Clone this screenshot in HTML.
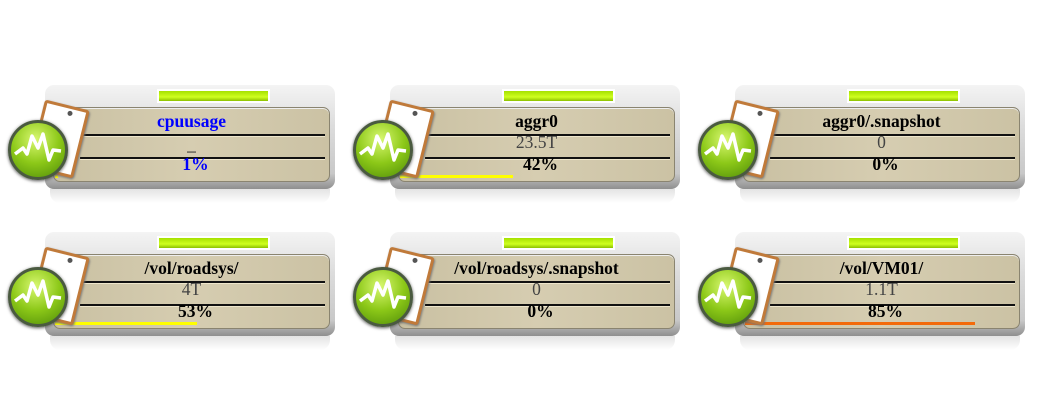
<!DOCTYPE html>
<html><head><meta charset="utf-8"><style>
body{margin:0;width:1049px;height:420px;background:#fff;position:relative;overflow:hidden;font-family:"Liberation Serif",serif;}
.w{position:absolute;width:345px;height:140px;}
.outer{position:absolute;left:45px;top:2px;width:290px;height:104px;border-radius:9px;background:linear-gradient(#f4f4f4,#dcdcdc 40%,#c8c8c8 85%,#8f8f8f);}
.refl{position:absolute;left:50px;top:106px;width:280px;height:14px;background:linear-gradient(#d8d8d8,#fff);border-radius:0 0 10px 10px;opacity:.7}
.green{position:absolute;left:157px;top:6px;width:109px;height:10px;border:2px solid #fff;background:linear-gradient(#a6e000,#cfff20 60%,#8cc000);}
.inner{position:absolute;left:53px;top:24px;width:275px;height:73px;background:linear-gradient(90deg,#c9c0a2,#d6cdb1 50%,#cbc2a4);border:1px solid #8a8470;border-radius:7px;box-shadow:inset 0 1px 0 #eee;}
.ln{position:absolute;left:80px;width:245px;height:2px;background:#111;border-bottom:1px solid #eee6cc;}
.t{position:absolute;left:53px;width:277px;text-align:center;font-size:17.5px;line-height:19px;}
.b{font-weight:bold;}
.bar{position:absolute;top:92px;height:3px;}
.clip{position:absolute;left:36px;top:21px;width:40px;height:64px;background:#fff;border:3px solid #c07a3a;border-radius:3px;transform:rotate(14deg);box-shadow:1px 1px 2px #777;}
.clip:after{content:"";position:absolute;left:22px;top:2px;width:5px;height:5px;border-radius:50%;background:#555;}
.circ{position:absolute;left:8px;top:37px;width:54px;height:54px;border-radius:50%;border:3px solid #4a5a40;background:radial-gradient(circle at 45% 30%,#d8f870,#8cc818 50%,#4d8a08);box-shadow:0 1px 3px #555;}
</style></head><body>

<div class="w" style="left:0;top:83px">
<div class="outer"></div><div class="refl"></div><div class="green"></div><div class="inner"></div>
<div class="ln" style="top:51px"></div><div class="ln" style="top:74px"></div>
<div class="t b" style="top:29px;color:#00f">cpuusage</div>
<div class="t" style="top:52px;color:#222">_</div>
<div class="t b" style="top:72px;color:#00f;left:57px">1%</div>
<div class="bar" style="left:55px;width:3px;background:#ff0"></div>
<div class="clip"></div><div class="circ"><svg width="54" height="54"><polyline points="4,31 12,25 16,31 21,13 27,25 32,11 38,37 42,27 50,28" fill="none" stroke="#fff" stroke-width="3.5" stroke-linejoin="round"/></svg></div>
</div>

<div class="w" style="left:345px;top:83px">
<div class="outer"></div><div class="refl"></div><div class="green"></div><div class="inner"></div>
<div class="ln" style="top:51px"></div><div class="ln" style="top:74px"></div>
<div class="t b" style="top:29px">aggr0</div>
<div class="t" style="top:50px;color:#444">23.5T</div>
<div class="t b" style="top:72px;left:57px">42%</div>
<div class="bar" style="left:55px;width:113px;background:#ff0"></div>
<div class="clip"></div><div class="circ"><svg width="54" height="54"><polyline points="4,31 12,25 16,31 21,13 27,25 32,11 38,37 42,27 50,28" fill="none" stroke="#fff" stroke-width="3.5" stroke-linejoin="round"/></svg></div>
</div>

<div class="w" style="left:690px;top:83px">
<div class="outer"></div><div class="refl"></div><div class="green"></div><div class="inner"></div>
<div class="ln" style="top:51px"></div><div class="ln" style="top:74px"></div>
<div class="t b" style="top:29px">aggr0/.snapshot</div>
<div class="t" style="top:50px;color:#444">0</div>
<div class="t b" style="top:72px;left:57px">0%</div>
<div class="clip"></div><div class="circ"><svg width="54" height="54"><polyline points="4,31 12,25 16,31 21,13 27,25 32,11 38,37 42,27 50,28" fill="none" stroke="#fff" stroke-width="3.5" stroke-linejoin="round"/></svg></div>
</div>

<div class="w" style="left:0;top:230px">
<div class="outer"></div><div class="refl"></div><div class="green"></div><div class="inner"></div>
<div class="ln" style="top:51px"></div><div class="ln" style="top:74px"></div>
<div class="t b" style="top:29px">/vol/roadsys/</div>
<div class="t" style="top:50px;color:#444">4T</div>
<div class="t b" style="top:72px;left:57px">53%</div>
<div class="bar" style="left:55px;width:142px;background:#ff0"></div>
<div class="clip"></div><div class="circ"><svg width="54" height="54"><polyline points="4,31 12,25 16,31 21,13 27,25 32,11 38,37 42,27 50,28" fill="none" stroke="#fff" stroke-width="3.5" stroke-linejoin="round"/></svg></div>
</div>

<div class="w" style="left:345px;top:230px">
<div class="outer"></div><div class="refl"></div><div class="green"></div><div class="inner"></div>
<div class="ln" style="top:51px"></div><div class="ln" style="top:74px"></div>
<div class="t b" style="top:29px">/vol/roadsys/.snapshot</div>
<div class="t" style="top:50px;color:#444">0</div>
<div class="t b" style="top:72px;left:57px">0%</div>
<div class="clip"></div><div class="circ"><svg width="54" height="54"><polyline points="4,31 12,25 16,31 21,13 27,25 32,11 38,37 42,27 50,28" fill="none" stroke="#fff" stroke-width="3.5" stroke-linejoin="round"/></svg></div>
</div>

<div class="w" style="left:690px;top:230px">
<div class="outer"></div><div class="refl"></div><div class="green"></div><div class="inner"></div>
<div class="ln" style="top:51px"></div><div class="ln" style="top:74px"></div>
<div class="t b" style="top:29px">/vol/VM01/</div>
<div class="t" style="top:50px;color:#444">1.1T</div>
<div class="t b" style="top:72px;left:57px">85%</div>
<div class="bar" style="left:55px;width:230px;background:#f36a0a"></div>
<div class="clip"></div><div class="circ"><svg width="54" height="54"><polyline points="4,31 12,25 16,31 21,13 27,25 32,11 38,37 42,27 50,28" fill="none" stroke="#fff" stroke-width="3.5" stroke-linejoin="round"/></svg></div>
</div>

</body></html>
